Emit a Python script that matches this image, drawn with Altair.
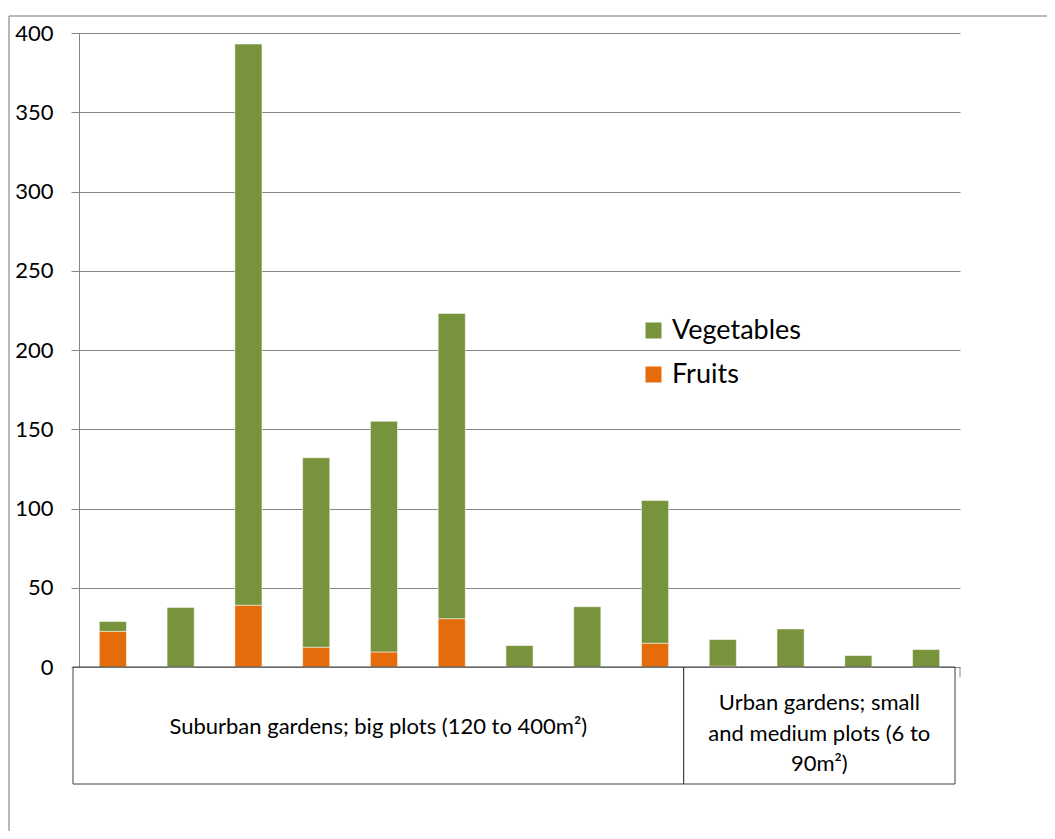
import altair as alt
import pandas as pd

plots = [str(i) for i in range(1, 14)]
fruits = [22.5, 0, 39, 12.5, 9.5, 30.5, 0, 0, 15, 0.5, 0, 0, 0]
vegetables = [6.2, 37.5, 354, 119.5, 145.5, 192.5, 13.5, 38, 90, 16.8, 24, 7.2, 11]
series = ["Vegetables", "Fruits"]
colors = ["#77933C", "#E46C0A"]
group_names = ["Suburban gardens; big plots (120 to 400m²)",
               "Urban gardens; small\nand medium plots (6 to\n90m²)"]
group_sizes = [9, 4]
y_ticks = list(range(0, 401, 50))

rows = []
for i, p in enumerate(plots):
    rows.append({"plot": p, "type": "Fruits", "value": fruits[i], "order": 0})
    rows.append({"plot": p, "type": "Vegetables", "value": vegetables[i], "order": 1})
df = pd.DataFrame(rows)

starts, ends, s = [], [], 0
for n in group_sizes:
    starts.append(s)
    s += n
    ends.append(s)
gdf = pd.DataFrame({"group": group_names, "start": starts, "end": ends, "gi": [0, 1]})
gdf["mid"] = (gdf["start"] + gdf["end"]) / 2

FONT = "Lato"
GRAY = "#868686"

bars = alt.Chart(df).mark_bar(stroke="white", strokeOpacity=0.5, strokeWidth=1).encode(
    x=alt.X("plot:N", sort=plots, axis=None,
            scale=alt.Scale(paddingInner=0.6, paddingOuter=0.3)),
    y=alt.Y("value:Q", stack="zero", scale=alt.Scale(domain=[0, 400]),
            axis=alt.Axis(values=y_ticks, title=None, grid=True, gridColor=GRAY, gridWidth=1.2,
                          domainColor=GRAY, tickColor=GRAY, tickSize=8, labelPadding=18,
                          labelFontSize=22, labelFont=FONT, labelColor="black")),
    color=alt.Color("type:N", scale=alt.Scale(domain=series, range=colors),
                    legend=alt.Legend(title=None, orient="none", legendX=561, legendY=284,
                                      symbolType="square", symbolSize=256, symbolStrokeWidth=0,
                                      labelFontSize=27, labelFont=FONT, labelColor="black",
                                      rowPadding=16, labelOffset=5, padding=0)),
    order=alt.Order("order:Q", sort="ascending"),
)

box_scale = alt.Scale(domain=[0, 13], range=[-6, 876])

boxes = alt.Chart(gdf).mark_rect(fill="white", fillOpacity=0, stroke="#404040", strokeWidth=1).encode(
    x=alt.X("start:Q", scale=box_scale, axis=None),
    x2="end:Q",
    y=alt.value(634),
    y2=alt.value(751),
)

text1 = alt.Chart(gdf).transform_filter("datum.gi == 0").mark_text(
    font=FONT, fontSize=22, color="black", baseline="middle", align="center"
).encode(
    x=alt.X("mid:Q", scale=box_scale, axis=None),
    y=alt.value(694),
    text="group:N",
)

text2 = alt.Chart(gdf).transform_filter("datum.gi == 1").mark_text(
    font=FONT, fontSize=22, color="black", baseline="middle", align="center",
    lineBreak="\n", lineHeight=30.5
).encode(
    x=alt.X("mid:Q", scale=box_scale, axis=None),
    y=alt.value(670),
    text="group:N",
)

one = pd.DataFrame({"a": [0]})
frame_left = alt.Chart(one).mark_rule(color="#a0a0a0", strokeWidth=1.5).encode(
    x=alt.value(-70), y=alt.value(-17), y2=alt.value(800))
frame_top = alt.Chart(one).mark_rule(color="#a0a0a0", strokeWidth=1.5).encode(
    x=alt.value(-70), x2=alt.value(970), y=alt.value(-17))
right_tick = alt.Chart(one).mark_rule(color=GRAY, strokeWidth=1).encode(
    x=alt.value(881), y=alt.value(634), y2=alt.value(644))

chart = alt.layer(frame_left, frame_top, bars, right_tick, boxes, text1, text2).resolve_scale(
    x="independent"
).properties(
    width=881, height=634,
    padding={"left": 71, "top": 25, "right": 87, "bottom": 164},
    autosize=alt.AutoSizeParams(type="none"),
).configure_view(stroke=None)

chart.save("out.html", embed_options={"renderer": "svg", "actions": False})
